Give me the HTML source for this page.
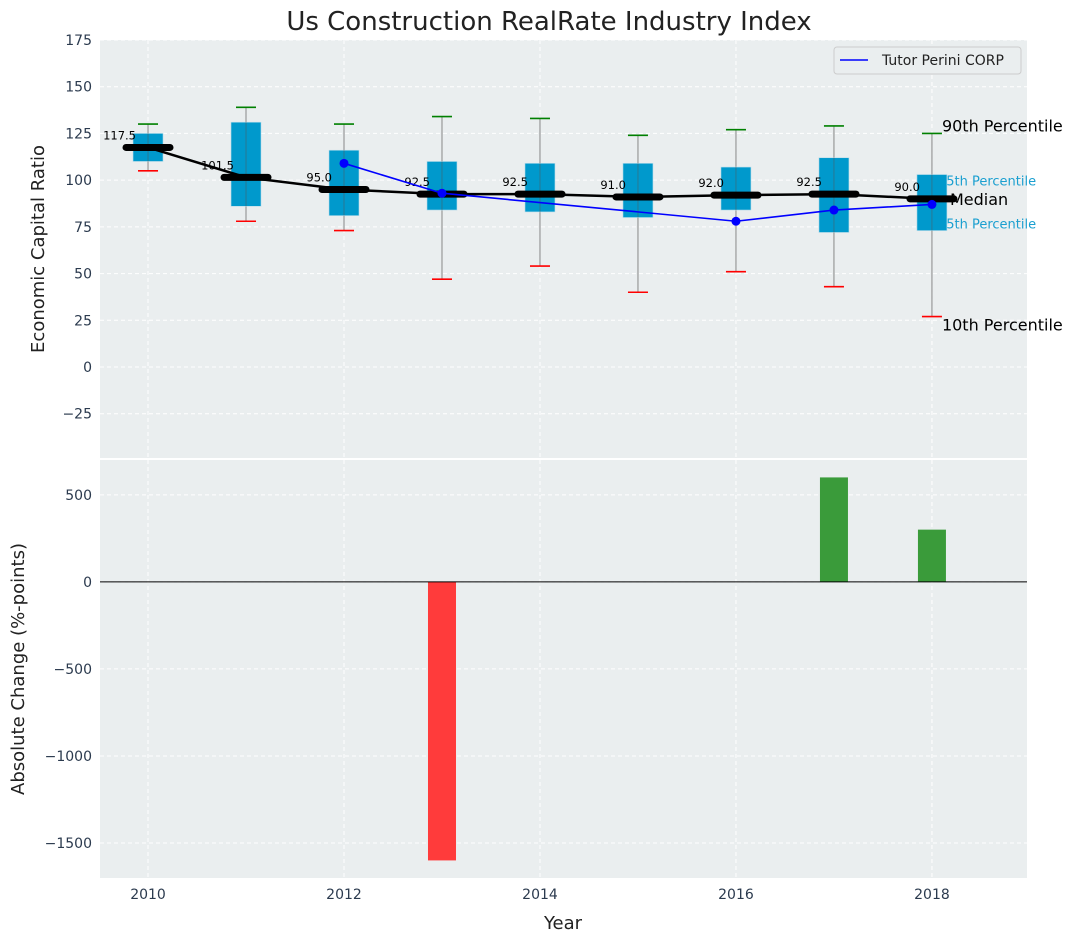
<!DOCTYPE html>
<html><head><meta charset="utf-8"><style>
body{margin:0;background:#fff;font-family:"Liberation Sans","DejaVu Sans",sans-serif}
svg text{font-family:"DejaVu Sans","Liberation Sans",sans-serif}
</style></head><body>
<svg id="c" width="1077" height="942" xmlns="http://www.w3.org/2000/svg"></svg>
<script>
const years=[2010,2011,2012,2013,2014,2015,2016,2017,2018];
const p10=[105,78,73,47,54,40,51,43,27];
const p25=[110,86,81,84,83,80,84,72,73];
const med=[117.5,101.5,95,92.5,92.5,91,92,92.5,90];
const p75=[125,131,116,110,109,109,107,112,103];
const p90=[130,139,130,134,133,124,127,129,125];
const compYears=[2012,2013,2016,2017,2018];
const compVals=[109,93,78,84,87];
const chgYears=[2013,2017,2018];
const chgVals=[-1600,600,300];
const topTicks=[-25,0,25,50,75,100,125,150,175];
const botTicks=[-1500,-1000,-500,0,500];
const xTicks=[2010,2012,2014,2016,2018];

const NS="http://www.w3.org/2000/svg";
const svg=document.getElementById('c');
function el(t,a,p){const e=document.createElementNS(NS,t);for(const k in a)e.setAttribute(k,a[k]);(p||svg).appendChild(e);return e;}
const L=100,R=1027;
const X=v=>L+(v-2009.51)/(2018.97-2009.51)*(R-L);
const T0=40,T1=458,B0=460,B1=878;
const YT=v=>T0+(175-v)/(175+48.7)*(T1-T0);
const YB=v=>B0+(700-v)/(700+1701)*(B1-B0);

function panel(y0,y1,ticks,Y,name,label,lx){
  const g=el('g',{});
  el('rect',{x:L,y:y0,width:R-L,height:y1-y0,fill:'#eaeeef'},g);
  ticks.forEach(t=>{const y=Y(t);
    el('line',{x1:L,x2:R,y1:y,y2:y,stroke:'#fff','stroke-dasharray':'4,3','stroke-width':1},g);
    const tx=el('text',{x:L-8,y:y+5,'text-anchor':'end','font-size':14,fill:'#2b3a4e'},g);tx.textContent=(t<0?'\u2212'+(-t):t);
    });
  xTicks.forEach(t=>el('line',{x1:X(t),x2:X(t),y1:y0,y2:y1,stroke:'#fff','stroke-dasharray':'4,3'},g));
  const yl=el('text',{x:lx,y:(y0+y1)/2,'text-anchor':'middle','font-size':18,fill:'#222',transform:`rotate(-90 ${lx} ${(y0+y1)/2})`},g);
  yl.textContent=label;
  return g;
}
const gt=panel(T0,T1,topTicks,YT,'top-panel','Economic Capital Ratio',44);
const gb=panel(B0,B1,botTicks,YB,'bottom-panel','Absolute Change (%-points)',24);

const title=el('text',{x:549,y:30,'text-anchor':'middle','font-size':26,fill:'#222'});
title.textContent='Us Construction RealRate Industry Index';


// percentile labels (behind box)
const lx=X(2018)+10;
[['90th Percentile',YT(p90[8])-2,16,'#000',lx],['75th Percentile',YT(p75[8])+11,13,'#1a9fd0',lx-4],['25th Percentile',YT(p25[8])-2,13,'#1a9fd0',lx-4],['Median',YT(med[8])+6,16,'#000',lx+8],['10th Percentile',YT(p10[8])+14,16,'#000',lx]].forEach(a=>{
  const t=el('text',{x:a[4],y:a[1],'font-size':a[2],fill:a[3]});t.textContent=a[0];
  });

years.forEach((yr,i)=>{
  const x=X(yr);
  const w=el('line',{x1:x,x2:x,y1:YT(p10[i]),y2:YT(p90[i]),stroke:'#888','stroke-width':1});
  
  const b=el('rect',{x:x-15,y:YT(p75[i]),width:30,height:YT(p25[i])-YT(p75[i]),fill:'#0099cc',stroke:'#b8dcea','stroke-width':0.6});
  
  el('line',{x1:x,x2:x,y1:YT(p75[i]),y2:YT(p25[i]),stroke:'#555','stroke-width':0.8,opacity:0.6});
  const c1=el('line',{x1:x-10,x2:x+10,y1:YT(p90[i]),y2:YT(p90[i]),stroke:'green','stroke-width':1.6});
  
  const c2=el('line',{x1:x-10,x2:x+10,y1:YT(p10[i]),y2:YT(p10[i]),stroke:'red','stroke-width':1.6});
  
});
const ml=el('polyline',{points:years.map((y,i)=>X(y)+','+YT(med[i])).join(' '),fill:'none',stroke:'#000','stroke-width':2.5});

years.forEach((yr,i)=>{
  const x=X(yr);
  const m=el('line',{x1:x-22,x2:x+22,y1:YT(med[i]),y2:YT(med[i]),stroke:'#000','stroke-width':7,'stroke-linecap':'round'});
  
  const t=el('text',{x:x-12,y:YT(med[i])-8,'text-anchor':'end','font-size':11.5,fill:'#000'});
  t.textContent=med[i].toFixed(1);
});
const cl=el('polyline',{points:compYears.map((y,i)=>X(y)+','+YT(compVals[i])).join(' '),fill:'none',stroke:'#0000ff','stroke-width':1.6});

compYears.forEach((y,i)=>{const p=el('circle',{cx:X(y),cy:YT(compVals[i]),r:4.5,fill:'#0000ff'});
  });

// legend
const lg=el('g',{});
el('rect',{x:834,y:47,width:187,height:27,rx:3,fill:'#eaeeef',stroke:'#ccc'},lg);
el('line',{x1:840,x2:868,y1:60,y2:60,stroke:'#0000ff','stroke-width':1.6},lg);
const lt=el('text',{x:882,y:65,'font-size':14,fill:'#222'},lg);lt.textContent='Tutor Perini CORP';


// bottom bars
chgYears.forEach((y,i)=>{const v=chgVals[i];
  const b=el('rect',{x:X(y)-14,y:Math.min(YB(0),YB(v)),width:28,height:Math.abs(YB(v)-YB(0)),fill:v<0?'#ff3b3b':'#3a9b3a'});
  });
const zl=el('line',{x1:L,x2:R,y1:YB(0),y2:YB(0),stroke:'#000','stroke-width':1});

xTicks.forEach(t=>{const tx=el('text',{x:X(t),y:B1+21,'text-anchor':'middle','font-size':14,fill:'#2b3a4e'});
  tx.textContent=t;});
const xl=el('text',{x:563,y:929,'text-anchor':'middle','font-size':18,fill:'#222'});xl.textContent='Year';

</script>
</body></html>
